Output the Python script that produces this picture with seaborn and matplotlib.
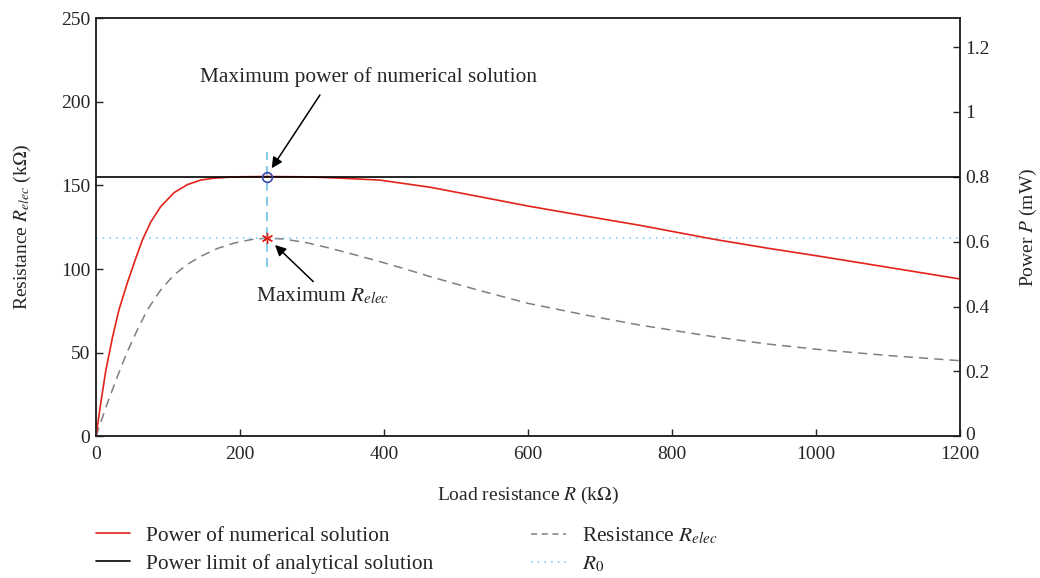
import matplotlib
matplotlib.use("Agg")
import matplotlib.pyplot as plt
import matplotlib.transforms as mtransforms
import seaborn as sns
import pandas as pd
from matplotlib.lines import Line2D

# ---------------- data ----------------
R_power = [0, 6.5, 13.4, 22.7, 31.9, 43.5, 55.1, 64.4, 75.9, 89.8, 108.3, 126.9, 145.4,
           163.9, 191.7, 237, 290, 330, 394, 464, 530, 600, 680, 754, 857, 930, 1011,
           1100, 1200]
P_power = [0, 0.100, 0.200, 0.303, 0.390, 0.473, 0.548, 0.605, 0.660, 0.708, 0.751,
           0.776, 0.790, 0.796, 0.800, 0.801, 0.800, 0.797, 0.790, 0.768, 0.740, 0.710,
           0.679, 0.651, 0.608, 0.581, 0.553, 0.521, 0.485]

R_res = [0, 15.7, 29.6, 43.5, 57.4, 71.3, 89.8, 108.3, 126.9, 145.4, 168.5, 191.7, 215,
         237, 260, 290, 325, 360, 394, 430, 464, 530, 600, 680, 754, 857, 930, 1011,
         1100, 1200]
Relec = [0, 19.7, 35.6, 50.6, 63.6, 75.6, 87.5, 96.5, 102.8, 107.6, 112.3, 115.5,
         117.6, 118.5, 118.0, 116.0, 112.5, 108.5, 104.5, 100.0, 95.5, 87.5, 79.5, 72.5,
         66.6, 59.6, 55.3, 51.6, 48.3, 45.2]

P_limit = 0.8            # mW
R0 = 118.6               # kOhm
R_opt = 237              # kOhm
vline_span = [101, 170]  # kOhm

x_ticks = [0, 200, 400, 600, 800, 1000, 1200]
y_left_ticks = [0, 50, 100, 150, 200, 250]
y_right_ticks = [0, 0.2, 0.4, 0.6, 0.8, 1.0, 1.2]
y_right_labels = ["0", "0.2", "0.4", "0.6", "0.8", "1", "1.2"]

# ---------------- style ----------------
sns.set_style("ticks")
plt.rcParams["font.family"] = ["Liberation Serif", "DejaVu Serif"]
plt.rcParams["mathtext.fontset"] = "stix"
plt.rcParams["font.size"] = 14
plt.rcParams["axes.linewidth"] = 1.1

fig = plt.figure(figsize=(10.4, 5.78), dpi=100)
ax = fig.add_axes([0.0923, 0.2452, 0.8308, 0.7232])
ax2 = ax.twinx()

df_p = pd.DataFrame({"R": R_power, "P": P_power})
df_r = pd.DataFrame({"R": R_res, "Relec": Relec})

red = "#e2231a"
gray = "#7f7f7f"
lblue = "#8ccbef"
cyan = "#62bde8"

sns.lineplot(data=df_r, x="R", y="Relec", ax=ax, color=gray, lw=1.1,
             linestyle=(0, (6, 4)), estimator=None, sort=False)
ax.axhline(R0, color=lblue, lw=1.2, linestyle=(0, (1, 3)))
ax.plot([R_opt, R_opt], vline_span, color=cyan, lw=1.1, linestyle=(0, (6, 4)))
ax.plot([R_opt], [R0], marker=(6, 2, 0), color=red, markersize=8, mew=1.0, ls="none")

sns.lineplot(data=df_p, x="R", y="P", ax=ax2, color=red, lw=1.2,
             estimator=None, sort=False)
ax2.axhline(P_limit, color="black", lw=1.2)
ax2.plot([R_opt], [P_limit], marker="o", mfc="none", mec="#3a4aa8",
         markersize=7, mew=1.2, ls="none")

ax.set_xlim(0, 1200)
ax.set_ylim(0, 250)
ax2.set_ylim(0, 1.289)
ax.set_xticks(x_ticks)
ax.set_xticklabels([str(t) for t in x_ticks])
ax.set_yticks(y_left_ticks)
ax.set_yticklabels([str(t) for t in y_left_ticks])
ax2.set_yticks(y_right_ticks)
ax2.set_yticklabels(y_right_labels)

for a in (ax, ax2):
    a.tick_params(direction="in", length=5, width=1.0, labelsize=14, pad=4)
    for s in a.spines.values():
        s.set_visible(True)
        s.set_color("#222222")
ax.tick_params(axis="x", pad=7)

# nudge the right-axis "0" label up so it clears the "1200" label
t0 = ax2.yaxis.get_major_ticks()[0].label2
t0.set_transform(t0.get_transform() + mtransforms.ScaledTranslation(0, 3 / 100, fig.dpi_scale_trans))

ax.set_xlabel(r"Load resistance $R$ (k$\Omega$)", fontsize=14, labelpad=16)
ax.set_ylabel(r"Resistance $R_{elec}$ (k$\Omega$)", fontsize=14, labelpad=20)
ax2.set_ylabel(r"Power $P$ (mW)", fontsize=14, labelpad=20)

# annotations
afs = 15.4
ax.text(378.5, 212.1, "Maximum power of numerical solution", ha="center",
        va="baseline", fontsize=afs)
ax.annotate("", xy=(244, 160.3), xytext=(311, 204.1),
            arrowprops=dict(arrowstyle="-|>", color="black", lw=1.1,
                            mutation_scale=16, shrinkA=0, shrinkB=0))
ax.text(314.6, 80.5, r"Maximum $R_{elec}$", ha="center", va="baseline", fontsize=afs)
ax.annotate("", xy=(248.6, 114.4), xytext=(301.8, 92.5),
            arrowprops=dict(arrowstyle="-|>", color="black", lw=1.1,
                            mutation_scale=16, shrinkA=0, shrinkB=0))

# legends
h1 = [Line2D([], [], color=red, lw=1.2), Line2D([], [], color="black", lw=1.2)]
l1 = ["Power of numerical solution", "Power limit of analytical solution"]
h2 = [Line2D([], [], color=gray, lw=1.1, linestyle=(0, (4, 3))),
      Line2D([], [], color=lblue, lw=1.2, linestyle=(0, (1, 3)))]
l2 = [r"Resistance $R_{elec}$", r"$R_0$"]
kw = dict(frameon=False, fontsize=afs, handlelength=1.6, handletextpad=0.75,
          labelspacing=0.36, borderpad=0, borderaxespad=0, loc="upper left")
fig.legend(h1, l1, bbox_to_anchor=(0.0925, 1 - 526 / 578), **kw)
fig.legend(h2, l2, bbox_to_anchor=(0.511, 1 - 526 / 578), **kw)

fig.savefig("out.png", dpi=100)
